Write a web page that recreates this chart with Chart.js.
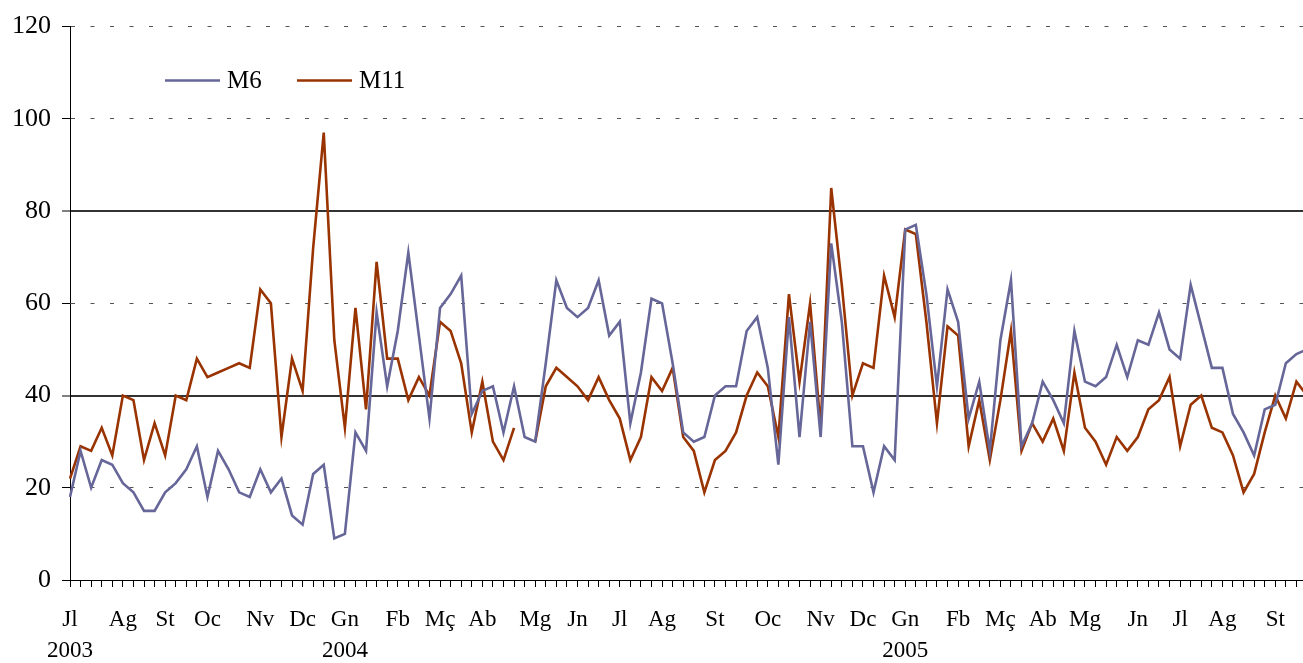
<!DOCTYPE html>
<html>
<head>
<meta charset="utf-8">
<script src="https://cdn.jsdelivr.net/npm/chart.js@4.4.1/dist/chart.umd.min.js"></script>
<style>
  html, body { margin: 0; padding: 0; background: #fff; overflow: hidden; }
  #wrap { width: 1308px; height: 663px; }
</style>
</head>
<body>
<div id="wrap"><canvas id="c" width="1308" height="663"></canvas></div>
<script>
// Month tick labels (Catalan abbreviations) at their week index
const monthTickIndex = [0, 5, 9, 13, 18, 22, 26, 31, 35, 39, 44, 48, 52, 56, 61, 66, 71, 75, 79, 84, 88, 92, 96, 101, 105, 109, 114];
const monthTickText  = ["Jl","Ag","St","Oc","Nv","Dc","Gn","Fb","Mç","Ab","Mg","Jn","Jl","Ag","St","Oc","Nv","Dc","Gn","Fb","Mç","Ab","Mg","Jn","Jl","Ag","St"];
const yearTickIndex = [0, 26, 79];
const yearTickText  = ["2003", "2004", "2005"];

// Weekly series values
const m6 = [18,28,20,26,25,21,19,15,15,19,21,24,29,18,28,24,19,18,24,19,
            22,14,12,23,25,9,10,32,28,58,42,54,71,53,35,59,62,66,36,41,
            42,32,42,31,30,47,65,59,57,59,65,53,56,34,45,61,60,47,32,30,
            31,40,42,42,54,57,46,25,57,31,56,31,73,56,29,29,19,29,26,76,
            77,62,42,63,56,35,43,28,52,65,29,34,43,39,34,54,43,42,44,51,
            44,52,51,58,50,48,64,55,46,46,36,32,27,37,38,47,49,50];
const m11 = [22,29,28,33,27,40,39,26,34,27,40,39,48,44,45,46,47,46,63,60,
             31,48,41,72,97,52,33,59,37,69,48,48,39,44,40,56,54,47,32,43,
             30,26,33,null,30,42,46,44,42,39,44,39,35,26,31,44,41,46,31,28,
             19,26,28,32,40,45,42,31,62,43,60,33,85,64,40,47,46,66,57,76,
             75,56,34,55,53,29,39,26,39,54,28,34,30,35,28,45,33,30,25,31,
             28,31,37,39,44,29,38,40,33,32,27,19,23,32,40,35,43,40];

const seriesNames = ["M6", "M11"];
const yTicks = [0, 20, 40, 60, 80, 100, 120];
const solidRefLines = [40, 80];

// Build category labels
const labels = m6.map((_, i) => {
  const mi = monthTickIndex.indexOf(i);
  const yi = yearTickIndex.indexOf(i);
  if (mi < 0) return "";
  return yi >= 0 ? [monthTickText[mi], yearTickText[yi]] : monthTickText[mi];
});

const SERIF = "'Liberation Serif', 'Times New Roman', serif";

const legendPlugin = {
  id: 'inlineLegend',
  afterDatasetsDraw(chart) {
    const ctx = chart.ctx;
    const area = chart.chartArea;
    const x0 = area.left + 95, y0 = area.top + 54;
    const lineLen = 55, gapText = 7, itemStep = 132;
    ctx.save();
    ctx.font = "25px " + SERIF;
    ctx.textBaseline = 'middle';
    ctx.fillStyle = '#000';
    chart.data.datasets.forEach((ds, i) => {
      const x = x0 + i * itemStep;
      ctx.strokeStyle = ds.borderColor;
      ctx.lineWidth = 2.5;
      ctx.beginPath();
      ctx.moveTo(x, y0);
      ctx.lineTo(x + lineLen, y0);
      ctx.stroke();
      ctx.fillText(ds.label, x + lineLen + gapText, y0 + 1);
    });
    ctx.restore();
  }
};

new Chart(document.getElementById('c'), {
  type: 'line',
  data: {
    labels: labels,
    datasets: [
      { label: seriesNames[0], data: m6, borderColor: '#666699', backgroundColor: '#666699',
        borderWidth: 2.6, pointRadius: 0, tension: 0, spanGaps: false },
      { label: seriesNames[1], data: m11, borderColor: '#993300', backgroundColor: '#993300',
        borderWidth: 2.6, pointRadius: 0, tension: 0, spanGaps: false }
    ]
  },
  options: {
    responsive: false,
    animation: false,
    events: [],
    layout: { padding: { top: 26, right: 1, left: 0, bottom: 0 } },
    plugins: { legend: { display: false }, tooltip: { enabled: false }, title: { display: false } },
    scales: {
      x: {
        type: 'category',
        offset: false,
        afterFit(scale) { scale.height = 83; scale.paddingLeft = 0; scale.paddingRight = 0; },
        border: { display: true, color: '#000', width: 1 },
        grid: { drawOnChartArea: false, drawTicks: true, tickLength: 7, tickColor: '#000', tickWidth: 1 },
        ticks: {
          autoSkip: false, maxRotation: 0, minRotation: 0, padding: 18,
          color: '#000',
          font: { family: SERIF, size: 23, lineHeight: 1.32 }
        }
      },
      y: {
        min: 0, max: 120,
        afterFit(scale) { scale.width = 70; },
        afterBuildTicks(scale) { scale.ticks = yTicks.map(v => ({ value: v })); },
        border: {
          display: true, color: '#000', width: 1,
          dash: (ctx) => (ctx.type === 'tick' && !solidRefLines.includes(ctx.tick.value)) ? [4, 15.5] : [],
          dashOffset: 0
        },
        grid: {
          drawTicks: true, tickLength: 8, tickColor: '#000', tickWidth: 1, tickBorderDash: [],
          color: (ctx) => {
            if (ctx.type !== 'tick') return '#000';
            if (ctx.tick.value === 0) return 'rgba(0,0,0,0)';
            return solidRefLines.includes(ctx.tick.value) ? '#333333' : '#555555';
          },
          lineWidth: (ctx) => (ctx.type === 'tick' && solidRefLines.includes(ctx.tick.value)) ? 2 : 1
        },
        ticks: {
          padding: 11, color: '#000',
          font: { family: SERIF, size: 26, lineHeight: 1.2 }
        }
      }
    }
  },
  plugins: [legendPlugin]
});
</script>
</body>
</html>
